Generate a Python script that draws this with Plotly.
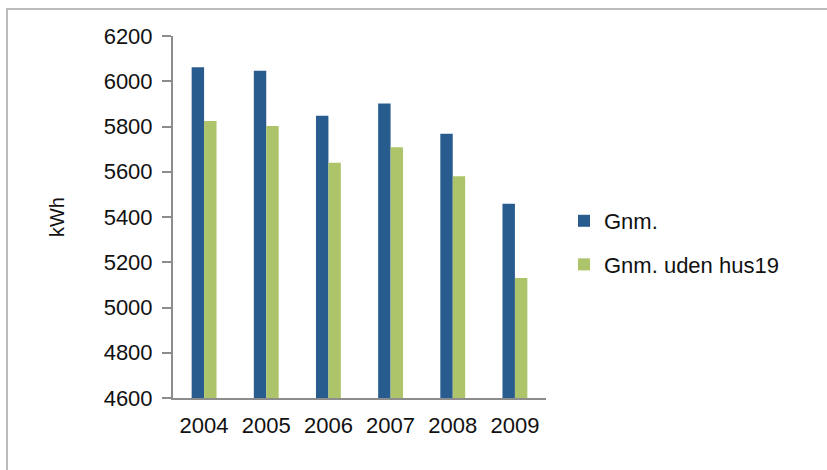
import plotly.graph_objects as go

years = ["2004", "2005", "2006", "2007", "2008", "2009"]
gnm = [6062, 6046, 5848, 5902, 5768, 5459]
gnm_uden = [5824, 5802, 5640, 5708, 5580, 5130]
y_ticks = [4600, 4800, 5000, 5200, 5400, 5600, 5800, 6000, 6200]

W, H = 827, 470
L, R, T, B = 173, 281, 36, 72
pw, ph = W - L - R, H - T - B

fig = go.Figure()
fig.add_trace(go.Bar(x=years, y=gnm, name="Gnm.", marker=dict(color="#285C8E", line=dict(width=0)),
                     legendgroup="a"))
fig.add_trace(go.Bar(x=years, y=gnm_uden, name="Gnm. uden hus19", marker=dict(color="#ADC46A", line=dict(width=0)),
                     legendgroup="b"))

font = "Liberation Sans, Arial, sans-serif"
fig.update_layout(
    width=W, height=H,
    margin=dict(l=L, r=R, t=T, b=B),
    paper_bgcolor="white", plot_bgcolor="white",
    barmode="group", bargap=0.6, bargroupgap=0,
    font=dict(family=font, size=22, color="#111111"),
    showlegend=True,
    legend=dict(x=(564 - L) / pw, y=(398 - 200) / ph, xanchor="left", yanchor="top",
                font=dict(size=22), tracegroupgap=12, traceorder="grouped",
                itemwidth=30, bgcolor="rgba(0,0,0,0)"),
    xaxis=dict(showline=True, linecolor="#8C8C8C", linewidth=2, ticks="", showgrid=False,
               tickfont=dict(size=22), ticklabelstandoff=7),
    yaxis=dict(range=[4600, 6200], tickvals=y_ticks, showline=True, linecolor="#8C8C8C", linewidth=2,
               ticks="outside", ticklen=9, tickcolor="#8C8C8C", tickwidth=2, showgrid=False, zeroline=False,
               tickfont=dict(size=22), ticklabelstandoff=5,
               title=dict(text="kWh", font=dict(size=20), standoff=34)),
    shapes=[dict(type="path", xref="paper", yref="paper",
                 path="M {a},{b} L {a},{c} L {d},{c}".format(
                     a=(7 - L) / pw, b=(398 - 475) / ph, c=(398 - 9) / ph, d=(835 - L) / pw),
                 line=dict(color="#A6A6A6", width=1.5), layer="below")],
)

fig.write_html("out.html")
